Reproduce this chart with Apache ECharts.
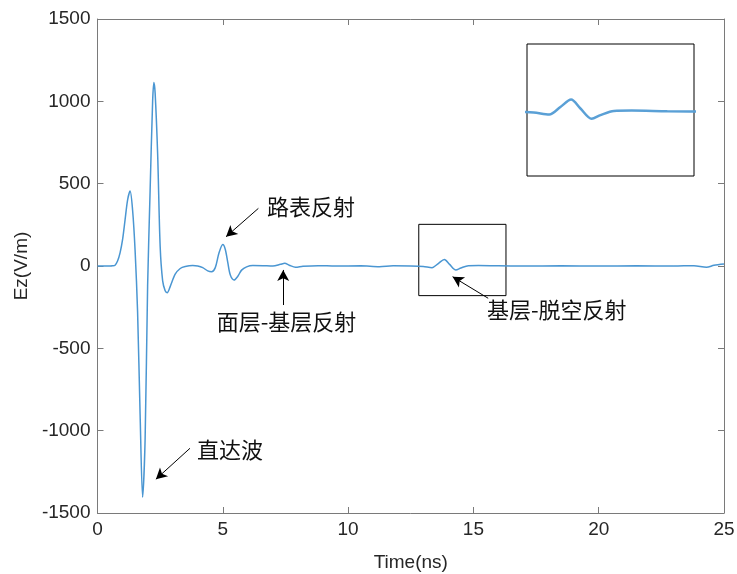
<!DOCTYPE html>
<html><head><meta charset="utf-8">
<script src="https://cdn.jsdelivr.net/npm/echarts@6/dist/echarts.min.js"></script>
<style>html,body{margin:0;padding:0;background:#fff}#c{width:737px;height:574px}</style>
</head><body><div id="c"></div>
<script>
// Time (ns)
var times = [0, 0.5, 0.6, 0.7, 0.8, 0.9, 1.0, 1.1, 1.2, 1.3, 1.4, 1.5, 1.6, 1.7, 1.8, 1.9, 2.0, 2.1, 2.2, 2.25, 2.3, 2.4, 2.5, 2.6, 2.7, 2.78, 2.9, 3.1, 3.3, 3.5, 3.8, 4.0, 4.2, 4.4, 4.55, 4.7, 4.85, 5.0, 5.1, 5.2, 5.3, 5.45, 5.6, 5.75, 5.95, 6.2, 6.6, 7.0, 7.3, 7.47, 7.65, 7.9, 8.2, 8.8, 9.5, 10.5, 11.25, 11.8, 12.5, 13.0, 13.35, 13.6, 13.84, 14.05, 14.3, 14.5, 14.8, 15.2, 16.0, 17.0, 18.5, 20.0, 21.5, 23.0, 23.8, 24.3, 24.6, 25.0];
// Ez (V/m)
var ez = [0, 0, 1, 5, 30, 80, 160, 280, 400, 455, 340, 95, -280, -900, -1405, -1050, -120, 460, 1000, 1115, 1050, 680, 120, -90, -150, -162, -125, -50, -15, -3, 3, 0, -10, -30, -35, -10, 80, 130, 100, 20, -55, -85, -62, -25, -5, 3, 2, 0, 10, 16, 5, -8, -2, 2, 0, 1, -4, 1, 0, -3, -10, 15, 40, 10, -24, -12, 2, 3, 1, 0, 1, 0, 1, 0, 2, -8, 4, 12];
var xTicks = [0, 5, 10, 15, 20, 25];
var yTicks = [-1500, -1000, -500, 0, 500, 1000, 1500];
var annotations = [
  {text: '路表反射', from: [6.42, 350], to: [5.13, 178], label: [6.76, 358], align: 'left'},
  {text: '面层-基层反射', from: [7.41, -237], to: [7.41, -24], label: [7.54, -340], align: 'center'},
  {text: '基层-脱空反射', from: [15.59, -196], to: [14.17, -65], label: [15.54, -267], align: 'left'},
  {text: '直达波', from: [3.69, -1107], to: [2.33, -1295], label: [3.97, -1117], align: 'left'}
];
var zoomBox = {t0: 12.82, t1: 16.3, v0: -180, v1: 253};
var insetRange = {t0: 12.85, t1: 16.6, v0: -215, v1: 225};

var data = times.map(function (t, i) { return [t, ez[i]]; });
var lineColor = '#4a96d2';
var axisColor = '#7a7a7a';
var txtColor = '#262626';
var fam = 'Liberation Sans, Arial, sans-serif';
var tickFont = {fontFamily: fam, fontSize: 19, color: txtColor, formatter: function (v) { return String(v); }};
var cjk = 'Noto Sans CJK SC, sans-serif';

var chart = echarts.init(document.getElementById('c'));
var option = {
  animation: false,
  backgroundColor: '#fff',
  grid: [
    {left: 97.5, right: 13, top: 19, bottom: 61, show: false, outerBoundsMode: 'none', containLabel: false},
    {left: 527, top: 44, width: 167, height: 132, show: true, borderColor: '#000', borderWidth: 1, backgroundColor: '#fff', z: 10, outerBoundsMode: 'none'}
  ],
  xAxis: [
    {type: 'value', gridIndex: 0, min: 0, max: 25, interval: 5, position: 'bottom',
     name: 'Time(ns)', nameLocation: 'middle', nameGap: 40,
     nameTextStyle: {fontFamily: fam, fontSize: 19, color: txtColor},
     axisLine: {show: true, onZero: false, lineStyle: {color: axisColor, width: 1}},
     axisTick: {show: true, inside: true, length: 6, lineStyle: {color: axisColor}},
     axisLabel: Object.assign({margin: 7}, tickFont),
     splitLine: {show: false}},
    {type: 'value', gridIndex: 0, min: 0, max: 25, interval: 5, position: 'top',
     axisLine: {show: true, onZero: false, lineStyle: {color: axisColor, width: 1}},
     axisTick: {show: true, inside: true, length: 6, lineStyle: {color: axisColor}},
     axisLabel: {show: false}, splitLine: {show: false}},
    {type: 'value', gridIndex: 1, min: insetRange.t0, max: insetRange.t1, show: false}
  ],
  yAxis: [
    {type: 'value', gridIndex: 0, min: -1500, max: 1500, interval: 500, position: 'left',
     name: 'Ez(V/m)', nameLocation: 'middle', nameGap: 60, nameRotate: 90,
     nameTextStyle: {fontFamily: fam, fontSize: 19, color: txtColor},
     axisLine: {show: true, onZero: false, lineStyle: {color: axisColor, width: 1}},
     axisTick: {show: true, inside: true, length: 6, lineStyle: {color: axisColor}},
     axisLabel: Object.assign({margin: 7}, tickFont),
     splitLine: {show: false}},
    {type: 'value', gridIndex: 0, min: -1500, max: 1500, interval: 500, position: 'right',
     axisLine: {show: true, onZero: false, lineStyle: {color: axisColor, width: 1}},
     axisTick: {show: true, inside: true, length: 6, lineStyle: {color: axisColor}},
     axisLabel: {show: false}, splitLine: {show: false}},
    {type: 'value', gridIndex: 1, min: insetRange.v0, max: insetRange.v1, show: false}
  ],
  series: [
    {type: 'line', xAxisIndex: 0, yAxisIndex: 0, data: data, showSymbol: false, smooth: 0.3,
     lineStyle: {color: lineColor, width: 1.5}, z: 3,
     markArea: {silent: true, itemStyle: {color: 'rgba(0,0,0,0)', borderColor: '#000', borderWidth: 1},
       data: [[{coord: [zoomBox.t0, zoomBox.v1]}, {coord: [zoomBox.t1, zoomBox.v0]}]]},
     markLine: {silent: true, symbol: ['none', 'arrow'], symbolSize: [9, 11], precision: 3,
       lineStyle: {color: '#000', width: 1, type: 'solid'}, label: {show: false},
       data: annotations.map(function (a) { return [{coord: a.from}, {coord: a.to}]; })},
     markPoint: {silent: true, symbol: 'circle', symbolSize: 0,
       data: annotations.map(function (a) {
         return {coord: a.label, label: {show: true, formatter: a.text, position: 'inside', align: a.align,
           verticalAlign: 'middle', fontFamily: cjk, fontSize: 22, color: '#111'}};
       })}
    },
    {type: 'line', xAxisIndex: 2, yAxisIndex: 2, data: data, showSymbol: false, smooth: 0.3, clip: true,
     lineStyle: {color: '#5aa0d6', width: 2.5}, z: 12}
  ]
};
chart.setOption(option);
</script></body></html>
